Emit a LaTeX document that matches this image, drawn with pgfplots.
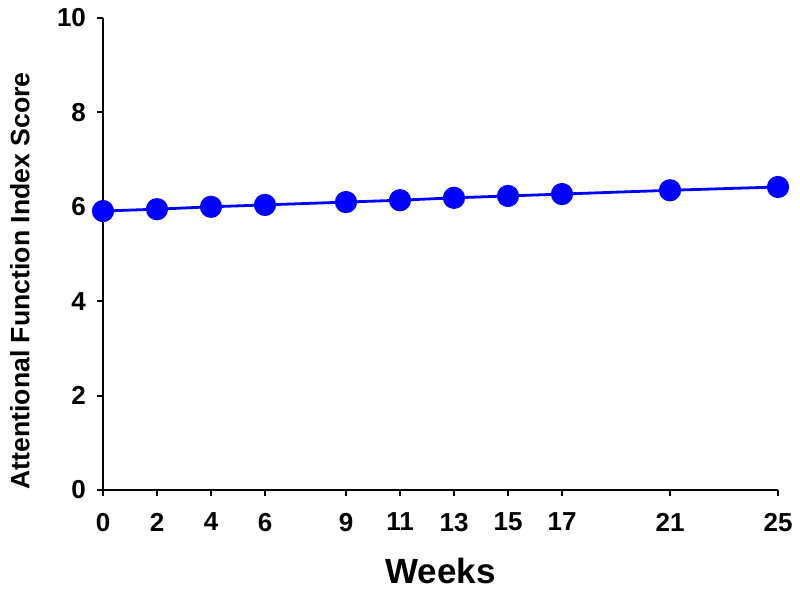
\documentclass[border=0pt]{standalone}
\usepackage{fontspec}
\setmainfont{Liberation Sans}
\usepackage{pgfplots}
\pgfplotsset{compat=1.18}

\begin{document}
\begin{tikzpicture}
\begin{axis}[
  name=ax,
  scale only axis,
  width=337.5pt,
  height=236pt,
  xmin=0, xmax=25,
  ymin=0, ymax=10,
  axis x line*=bottom,
  axis y line*=left,
  axis line style={line width=1pt},
  tick align=outside,
  major tick length=3pt,
  every tick/.style={black, line width=1pt},
  xtick={0,2,4,6,9,11,13,15,17,21,25},
  ytick={0,2,4,6,8,10},
  tick label style={font=\fontsize{13}{15}\selectfont\bfseries},
  xticklabel style={yshift=-5pt},
  yticklabel style={xshift=-2pt},
  /pgf/number format/assume math mode=true,
  xlabel={Weeks},
  ylabel={Attentional Function Index Score},
  xlabel style={font=\fontsize{17.5}{20}\selectfont\bfseries,
    at={(axis description cs:0.5,-0.197)}, anchor=base},
  ylabel style={font=\fontsize{13.3}{15}\selectfont\bfseries,
    at={(axis description cs:-0.123,0.443)}, anchor=center},
  clip=false,
]
\addplot[blue, line width=1.4pt, mark=*, mark size=5.3pt, mark options={fill=blue, draw=blue, line width=0.5pt}] coordinates {
  (0,5.91) (2,5.95) (4,6.00) (6,6.04) (9,6.10) (11,6.14) (13,6.19) (15,6.23) (17,6.27) (21,6.35) (25,6.42)
};
\end{axis}
\pgfresetboundingbox
\path[use as bounding box] ([xshift=-51.5pt,yshift=-50.5pt]ax.south west) rectangle ([xshift=11pt,yshift=9pt]ax.north east);
\end{tikzpicture}
\end{document}
